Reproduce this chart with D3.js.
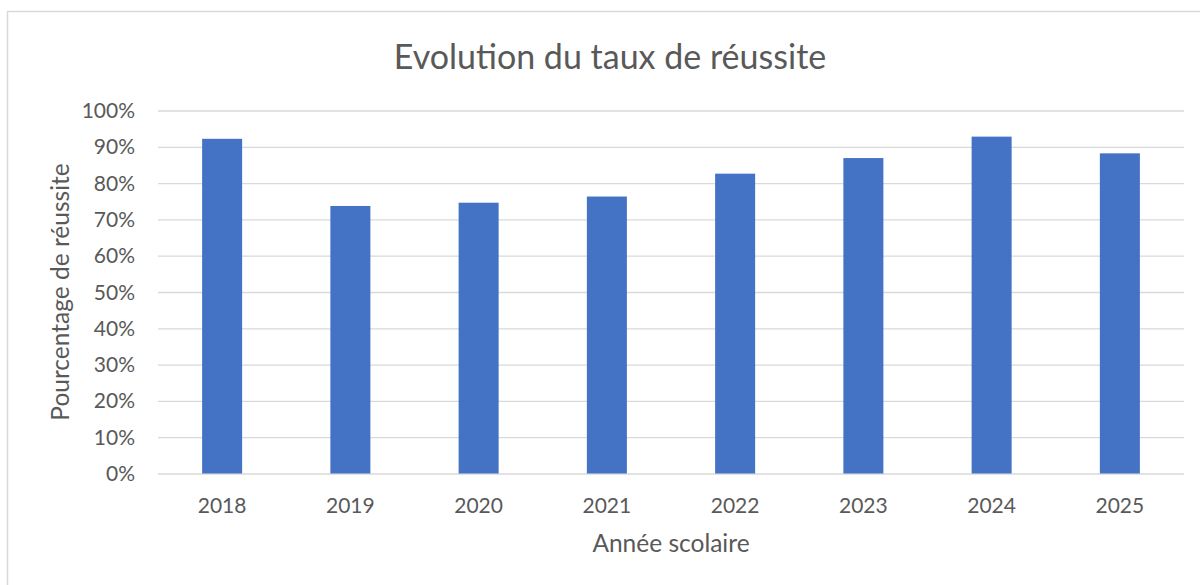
<!DOCTYPE html>
<html lang="fr">
<head>
    <meta charset="UTF-8">
    <title>Evolution du taux de réussite</title>
    <script src="https://cdn.jsdelivr.net/npm/d3@7"></script>
    <style>
        body { margin: 0; background: #fff; }
        text { font-family: 'Lato', 'Open Sans', sans-serif; fill: #595959; }
        .grid line { stroke: #d9d9d9; stroke-width: 1.3px; }
        .grid .domain { display: none; }
    </style>
</head>
<body>
<script>

    const width = 1200;
    const height = 585;
    const margin = {'top': 110.5, 'right': 16, 'bottom': 111.5, 'left': 158};

    const years = ['2018', '2019', '2020', '2021', '2022', '2023', '2024', '2025'];
    const taux = [0.922, 0.737, 0.746, 0.763, 0.826, 0.869, 0.928, 0.882];
    const yTicks = [0, 0.1, 0.2, 0.3, 0.4, 0.5, 0.6, 0.7, 0.8, 0.9, 1];

    let svg = d3.select('body').append('svg')
        .attr('width', width)
        .attr('height', height);

    // chart area border (runs off the right and bottom edges)
    svg.append('rect')
        .attr('x', 7.5)
        .attr('y', 11.5)
        .attr('width', 1300)
        .attr('height', 700)
        .style('fill', 'none')
        .style('stroke', '#d9d9d9')
        .style('stroke-width', '1.5px');

    let x = d3.scaleBand()
        .domain(years)
        .range([margin.left, width - margin.right])
        .paddingInner(0.688)
        .paddingOuter(0.344);

    let y = d3.scaleLinear()
        .domain([0, 1])
        .range([height - margin.bottom, margin.top]);

    // gridlines
    svg.append('g')
        .attr('class', 'grid')
        .attr('transform', 'translate(' + margin.left + ',0)')
        .call(d3.axisLeft(y)
            .tickValues(yTicks)
            .tickSize(-(width - margin.left - margin.right))
            .tickFormat(''));

    // bars
    svg.append('g').selectAll('rect')
        .data(years)
        .enter().append('rect')
        .attr('x', function(d) { return x(d); })
        .attr('y', function(d, i) { return y(taux[i]); })
        .attr('width', x.bandwidth())
        .attr('height', function(d, i) { return y(0) - y(taux[i]); })
        .style('fill', '#4472c4');

    // y tick labels
    svg.append('g').selectAll('text')
        .data(yTicks)
        .enter().append('text')
        .attr('x', 135)
        .attr('y', function(d) { return y(d); })
        .attr('dy', '0.36em')
        .attr('text-anchor', 'end')
        .style('font-size', '21px')
        .text(d3.format('.0%'));

    // x tick labels
    svg.append('g').selectAll('text')
        .data(years)
        .enter().append('text')
        .attr('x', function(d) { return x(d) + x.bandwidth() / 2; })
        .attr('y', height - margin.bottom + 39)
        .attr('text-anchor', 'middle')
        .style('font-size', '21px')
        .text(function(d) { return d; });

    svg.append('text')
        .attr('x', 610)
        .attr('y', 69)
        .attr('text-anchor', 'middle')
        .style('font-size', '34px')
        .text('Evolution du taux de réussite');

    svg.append('text')
        .attr('x', 671)
        .attr('y', 552)
        .attr('text-anchor', 'middle')
        .style('font-size', '24.5px')
        .text('Année scolaire');

    svg.append('text')
        .attr('transform', 'translate(69,' + 292 + ') rotate(-90)')
        .attr('text-anchor', 'middle')
        .style('font-size', '24.5px')
        .text('Pourcentage de réussite');

</script>
</body>
</html>
